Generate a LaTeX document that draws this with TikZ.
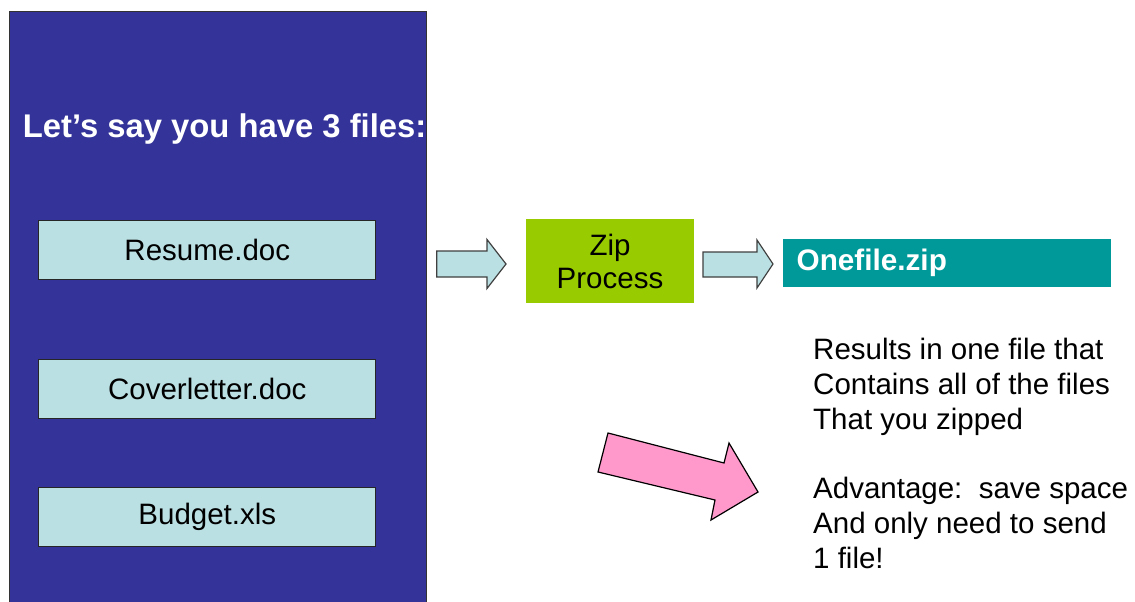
\documentclass[tikz,border=0pt]{standalone}
\usepackage{fontspec}
\setmainfont{Liberation Sans}
\definecolor{panelblue}{HTML}{333399}
\definecolor{filecyan}{HTML}{BBE0E3}
\definecolor{zipgreen}{HTML}{99CC00}
\definecolor{oneteal}{HTML}{009999}
\definecolor{arrowpink}{HTML}{FF99CC}
\tikzset{
  filebox/.style={draw=black!85,fill=filecyan,line width=1pt,minimum width=337pt,minimum height=59pt,inner sep=0pt,font=\fontsize{29.5}{34.7}\selectfont},
  blockarrow/.style={draw=black!75,fill=filecyan,line width=1.2pt,line join=miter},
}
\begin{document}
\begin{tikzpicture}[x=1pt,y=-1pt]
        \clip (0,0) rectangle (1135,602);
        \fill[white] (0,0) rectangle (1135,602);
        \draw[fill=panelblue,draw=black!80,line width=1pt] (9,11.7) rectangle (426,606);
        \node[anchor=base west,inner sep=0pt,text=white,font=\fontsize{32.8}{38}\selectfont\bfseries] (title) at (22.7,137) {Let’s say you have 3 files:};
        \node[filebox] (resume) at (207.3,249.5) {Resume.doc};
        \node[filebox] (cover) at (207.3,388.5) {Coverletter.doc};
        \node[filebox] (budget) at (207.3,517) {Budget.xls};
        \draw[blockarrow] (436.7,251) -- (487,251) -- (487,239.5) -- (506,264) -- (487,288.5) -- (487,277) -- (436.7,277) -- cycle;
        \node[fill=zipgreen,minimum width=168.3pt,minimum height=84pt,inner sep=0pt,align=center,font=\fontsize{29.5}{33}\selectfont] (zip) at (610,261.3) {Zip\\Process};
        \draw[blockarrow] (703,252) -- (757,252) -- (757,240) -- (773,264) -- (757,288) -- (757,277) -- (703,277) -- cycle;
        \node[fill=oneteal,minimum width=327.4pt,minimum height=47.4pt,inner xsep=13.4pt,inner ysep=0pt,text width=300.6pt,align=left,text=white,font=\fontsize{29.7}{34}\selectfont\bfseries] (onefile) at (947,263) {Onefile.zip};
        \node[anchor=base west,inner sep=0pt,align=left,font=\fontsize{29.5}{34.7}\selectfont] (result) at (813,568) {Results in one file that\\Contains all of the files\\That you zipped\\[34.7pt]Advantage:~~save space\\And only need to send\\1 file!};
        % pink arrow
        \draw[draw=black,fill=arrowpink,line width=1.2pt,line join=miter] (608,433) -- (724,463) -- (729,443) -- (758,492) -- (711,520) -- (715,500) -- (598,472) -- cycle;
\end{tikzpicture}
\end{document}
